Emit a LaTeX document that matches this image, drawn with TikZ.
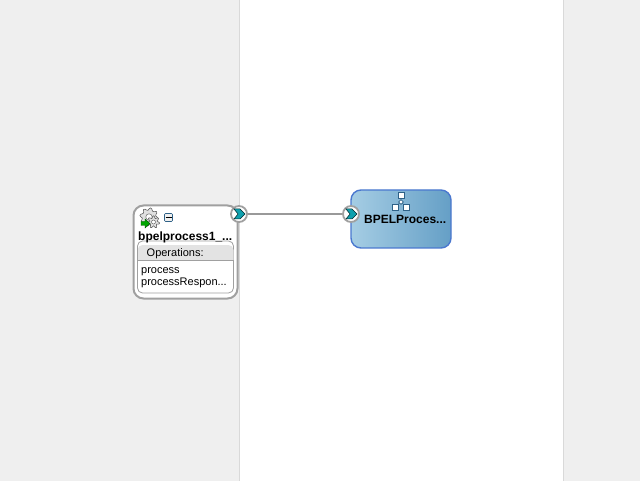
\documentclass[tikz,border=0pt]{standalone}
\usepackage{fontspec}
\setmainfont{Liberation Sans}
\usetikzlibrary{fit, shapes}
\definecolor{lanegray}{HTML}{EFEFEF}
\definecolor{laneline}{HTML}{D9D9D9}
\definecolor{boxline}{HTML}{A0A0A0}
\definecolor{wireline}{HTML}{999999}
\definecolor{chevfill}{HTML}{0FA0AE}
\definecolor{bpelleft}{HTML}{A5CDE4}
\definecolor{bpelright}{HTML}{659FC6}
\definecolor{bpelline}{HTML}{4A78CF}
\definecolor{iconline}{HTML}{2E6187}
\tikzset{
	lane/.style={fill=lanegray, draw=none},
	wirebox/.style={draw=boxline, line width=2pt, fill=white, rounded corners=10pt, minimum width=104pt, minimum height=93pt},
	opsbox/.style={draw=boxline, line width=0.8pt, fill=white, rounded corners=5pt, minimum width=96pt, minimum height=52pt},
	bpelbox/.style={draw=bpelline, line width=1.4pt, left color=bpelleft, right color=bpelright, rounded corners=10pt, minimum width=100pt, minimum height=58pt},
	port/.style={circle, draw=boxline, line width=1.8pt, fill=white, minimum size=16pt, inner sep=0pt},
	wire/.style={draw=wireline, line width=1.3pt},
	lbl/.style={inner sep=0pt, font=\fontsize{11}{13}\selectfont},
	ttl/.style={inner sep=0pt, font=\fontsize{12}{14}\selectfont\bfseries},
	chev/.style={fill=chevfill, draw=black!75!chevfill, line width=0.5pt},
	orgbox/.style={draw=iconline, fill=white, line width=0.8pt, minimum size=6pt, inner sep=0pt},
}
\begin{document}
\begin{tikzpicture}[x=1pt, y=-1pt]
	\useasboundingbox (0,0) rectangle (640,481);
	% side lanes
	\fill[white] (0,0) rectangle (640,481);
	\fill[lane] (0,0) rectangle (239.5,481);
	\fill[lane] (563.5,0) rectangle (640,481);
	\draw[laneline] (239.5,0) -- (239.5,481);
	\draw[laneline] (563.5,0) -- (563.5,481);
	% service on the left
	\node[wirebox] (service) at (185.5,252) {};
	\node[opsbox] (ops) at (185.5,267) {};
	\begin{scope}
		\clip[rounded corners=5pt] (137.5,245) rectangle (233.5,293);
		\fill[black!11] (137.5,245) rectangle (233.5,260);
	\end{scope}
	\draw[boxline, line width=0.6pt] (137.5,260) -- (233.5,260);
	\node[ttl, anchor=base west] (servicename) at (138,241) {bpelprocess1\_...};
	\node[lbl, anchor=base west] (opstitle) at (146.5,257) {Operations:};
	\node[lbl, anchor=base west] (opone) at (141,273.5) {process};
	\node[lbl, anchor=base west] (optwo) at (141,285.5) {processRespon...};
	% gears and the green arrow
	\foreach \cx/\cy/\r/\n in {149/217/8/8, 153.5/222/5/7} {
		\fill[black!12, draw=black!60, line width=0.6pt]
			plot[smooth cycle, samples=41, domain=0:360, variable=\t]
				({\cx+(\r+1.3*sin(\n*\t))*cos(\t)},{\cy+(\r+1.3*sin(\n*\t))*sin(\t)});
		\fill[white, draw=black!60, line width=0.5pt] (\cx,\cy) circle[radius=\r*0.4];
	}
	\fill[green!65!black, draw=green!30!black, line width=0.4pt]
		(141,221.5) -- (145,221.5) -- (145,219) -- (150,223.5) -- (145,228) -- (145,225.5) -- (141,225.5) -- cycle;
	% collapse button
	\node[draw=iconline, fill=black!6, line width=0.6pt, rounded corners=1pt, minimum size=8pt, inner sep=0pt] (collapse) at (168.5,217.5) {};
	\draw[black, line width=0.8pt] (165.5,217.5) -- (171.5,217.5);
	% component on the right
	\node[bpelbox] (bpel) at (401,219) {};
	\node[ttl, anchor=base west] (bpelname) at (364,223.5) {BPELProces...};
	\node[orgbox] (orgtop) at (401,195) {};
	\node[orgbox] (orgleft) at (395,207) {};
	\node[orgbox] (orgright) at (406.5,207) {};
	\node[draw=iconline, fill=white, diamond, line width=0.6pt, minimum size=5pt, inner sep=0pt] (orgmid) at (401,202) {};
	\draw[iconline, line width=0.7pt] (orgtop) -- (orgmid);
	\draw[iconline, line width=0.7pt] (orgmid) -- (orgleft);
	\draw[iconline, line width=0.7pt] (orgmid) -- (orgright);
	% ports and the wire
	\node[port] (portout) at (239,214) {};
	\node[port] (portin) at (351,214) {};
	\draw[wire] (portout) -- (portin);
	\foreach \p in {portout, portin} {
		\fill[chev] ([xshift=-5pt,yshift=-5pt]\p.center) -- ([xshift=1pt,yshift=-5pt]\p.center) -- ([xshift=6pt]\p.center) -- ([xshift=1pt,yshift=5pt]\p.center) -- ([xshift=-5pt,yshift=5pt]\p.center) -- ([xshift=-1pt]\p.center) -- cycle;
	}
\end{tikzpicture}
\end{document}
